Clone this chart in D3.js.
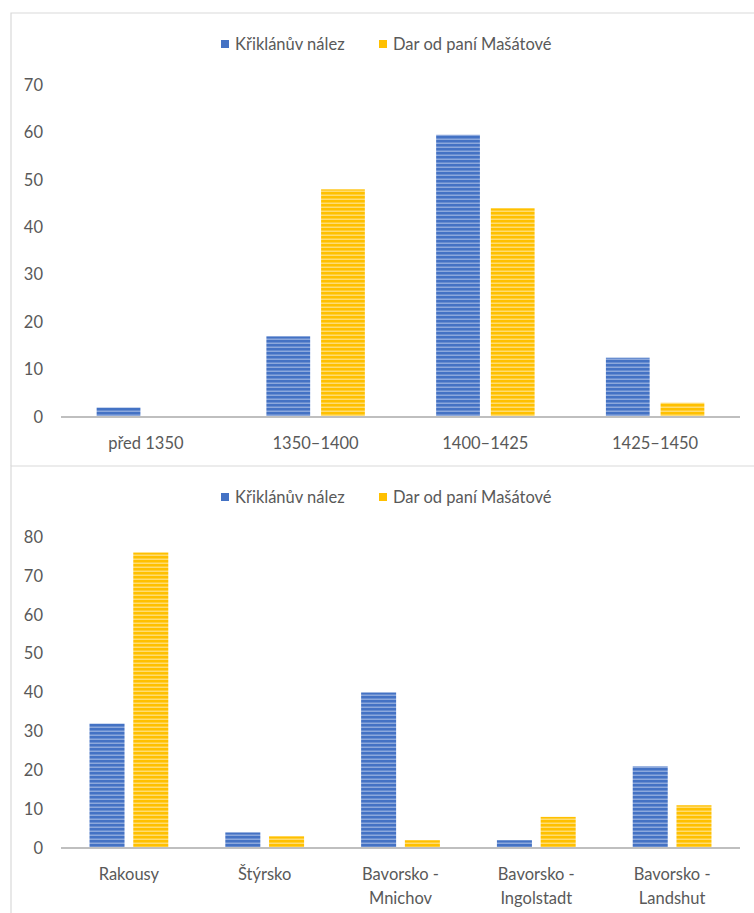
<!DOCTYPE html>
<html>
<head>
<meta charset="utf-8">
<script src="https://cdn.jsdelivr.net/npm/d3@7"></script>
<style>
  body { margin: 0; background: #fff; }
  text { font-family: Lato, "Open Sans", sans-serif; fill: #595959; }
</style>
</head>
<body>
<div id="chart"></div>
<script>
const seriesNames = ['Křiklánův nález', 'Dar od paní Mašátové'];

const periodCategories = ['před 1350', '1350–1400', '1400–1425', '1425–1450'];
const periodKriklan = [2, 17, 59.5, 12.5];
const periodMasat = [0, 48, 44, 3];
const periodTicks = [0, 10, 20, 30, 40, 50, 60, 70];

const regionCategories = ['Rakousy', 'Štýrsko', 'Bavorsko - Mnichov', 'Bavorsko - Ingolstadt', 'Bavorsko - Landshut'];
const regionKriklan = [32, 4, 40, 2, 21];
const regionMasat = [76, 3, 2, 8, 11];
const regionTicks = [0, 10, 20, 30, 40, 50, 60, 70, 80];

const colors = ['#4472C4', '#FFC000'];
const stripeColors = ['#9db5e2', '#ffe38c'];

const dimension = {
  width: 754,
  height: 913,
  fontSize: '16.5px'
};

const svg = d3.select('#chart')
  .append('svg')
  .attr('width', dimension.width)
  .attr('height', dimension.height);

// striped fill like the picture
const defs = svg.append('defs');
colors.forEach((c, i) => {
  const p = defs.append('pattern')
    .attr('id', 'stripe' + i)
    .attr('patternUnits', 'userSpaceOnUse')
    .attr('width', 8)
    .attr('height', 4);
  p.append('rect').attr('width', 8).attr('height', 4).attr('fill', c);
  p.append('rect').attr('y', 2.6).attr('width', 8).attr('height', 1.2).attr('fill', stripeColors[i]);
});

const drawChart = (box, categories, values, ticks) => {
  const ctr = svg.append('g');

  // frame
  ctr.append('path')
    .attr('d', `M${box.left},${box.bottom} V${box.top} H${dimension.width}`)
    .attr('fill', 'none')
    .attr('stroke', '#d9d9d9')
    .attr('stroke-width', 1.2);

  // legend
  const legend = ctr.append('g').attr('transform', `translate(0, ${box.legendY})`);
  const legendX = [221, 379];
  seriesNames.forEach((name, i) => {
    legend.append('rect')
      .attr('x', legendX[i])
      .attr('y', -4)
      .attr('width', 8)
      .attr('height', 8)
      .attr('fill', colors[i]);
    legend.append('text')
      .attr('x', legendX[i] + 14)
      .attr('y', 0)
      .attr('dy', '0.35em')
      .style('font-size', dimension.fontSize)
      .text(name);
  });

  const yScale = d3.scaleLinear()
    .domain([0, d3.max(ticks)])
    .range([box.axisY, box.topTickY]);

  const xScale = d3.scaleBand()
    .domain(categories)
    .range([61, 740])
    .paddingInner(0.42)
    .paddingOuter(0.21);

  const x1 = d3.scaleBand()
    .domain([0, 1])
    .range([0, xScale.bandwidth()])
    .paddingInner(0.2);

  const yAxis = d3.axisLeft(yScale)
    .tickValues(ticks)
    .tickSize(0)
    .tickPadding(0);
  ctr.append('g')
    .attr('transform', `translate(43, 0)`)
    .call(yAxis)
    .call(g => g.select('.domain').remove())
    .selectAll('text')
    .style('font-family', 'Lato, sans-serif')
    .style('font-size', dimension.fontSize)
    .style('fill', '#595959');

  const groups = ctr.selectAll('.group')
    .data(categories)
    .join('g')
    .attr('transform', d => `translate(${xScale(d)}, 0)`);

  groups.selectAll('rect')
    .data((d, i) => values.map((v, s) => ({ s, v: v[i] })))
    .join('rect')
    .attr('x', d => x1(d.s))
    .attr('width', x1.bandwidth())
    .attr('y', d => yScale(d.v))
    .attr('height', d => yScale(0) - yScale(d.v))
    .attr('fill', d => `url(#stripe${d.s})`);

  // baseline
  ctr.append('line')
    .attr('x1', 61)
    .attr('x2', 740)
    .attr('y1', yScale(0))
    .attr('y2', yScale(0))
    .attr('stroke', '#bfbfbf')
    .attr('stroke-width', 2.2);

  // category labels, split "A - B" into two lines
  const labels = ctr.selectAll('.cat')
    .data(categories)
    .join('text')
    .attr('text-anchor', 'middle')
    .attr('x', d => xScale(d) + xScale.bandwidth() / 2)
    .attr('y', yScale(0) + 26)
    .style('font-size', dimension.fontSize);
  labels.each(function (d) {
    const parts = d.includes(' - ') ? [d.split(' - ')[0] + ' -', d.split(' - ')[1]] : [d];
    parts.forEach((p, k) => {
      d3.select(this).append('tspan')
        .attr('x', xScale(d) + xScale.bandwidth() / 2)
        .attr('dy', k === 0 ? '0.35em' : '24px')
        .text(p);
    });
  });
};

drawChart(
  { left: 11, top: 13, bottom: 466, legendY: 44, axisY: 417, topTickY: 85 },
  periodCategories, [periodKriklan, periodMasat], periodTicks
);

drawChart(
  { left: 11, top: 466, bottom: 913, legendY: 497, axisY: 848, topTickY: 537 },
  regionCategories, [regionKriklan, regionMasat], regionTicks
);
</script>
</body>
</html>
